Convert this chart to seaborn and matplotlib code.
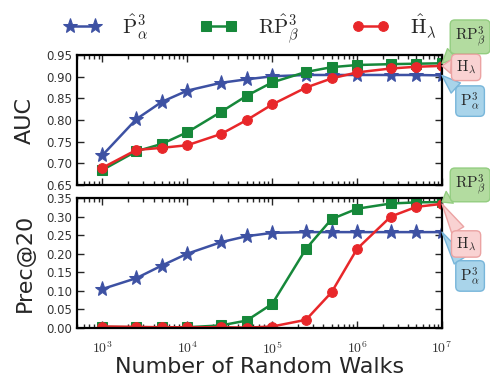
import numpy as np
import pandas as pd
import matplotlib
matplotlib.use('Agg')
import matplotlib.pyplot as plt
import seaborn as sns
from matplotlib.ticker import FuncFormatter, LogLocator, NullFormatter

## data
walks = [1e3, 2.5e3, 5e3, 1e4, 2.5e4, 5e4, 1e5, 2.5e5, 5e5, 1e6, 2.5e6, 5e6, 1e7]

auc_p = [0.719, 0.802, 0.842, 0.868, 0.886, 0.894, 0.901, 0.904, 0.904, 0.904, 0.904, 0.904, 0.903]
auc_rp = [0.685, 0.728, 0.745, 0.772, 0.819, 0.856, 0.887, 0.911, 0.922, 0.927, 0.929, 0.930, 0.931]
auc_h = [0.690, 0.731, 0.736, 0.742, 0.768, 0.800, 0.836, 0.875, 0.896, 0.910, 0.919, 0.923, 0.925]

prec_p = [0.105, 0.134, 0.168, 0.200, 0.231, 0.247, 0.256, 0.258, 0.258, 0.258, 0.258, 0.258, 0.258]
prec_rp = [0.003, 0.002, 0.002, 0.002, 0.007, 0.020, 0.065, 0.213, 0.293, 0.321, 0.335, 0.338, 0.339]
prec_h = [0.004, 0.003, 0.002, 0.002, 0.002, 0.001, 0.004, 0.022, 0.096, 0.213, 0.300, 0.326, 0.334]

names = [r'$\hat{\mathrm{P}}^3_\alpha$', r'$\mathrm{R}\hat{\mathrm{P}}^3_\beta$', r'$\hat{\mathrm{H}}_\lambda$']
box_names = [r'$\mathrm{P}^3_\alpha$', r'$\mathrm{RP}^3_\beta$', r'$\mathrm{H}_\lambda$']
colors = ['#3d51a3', '#16883a', '#e8272a']
markers = ['*', 's', 'o']
msizes = [11, 6.5, 7]
box_fc = ['#a9d4ea', '#b3dca0', '#f9d2d2']
box_ec = ['#78b6da', '#93cd80', '#eba3a3']

sns.set_style('ticks')
plt.rcParams['mathtext.fontset'] = 'cm'
plt.rcParams['font.family'] = ['DejaVu Sans']

fig = plt.figure(figsize=(4.9, 3.77), dpi=100)
ax1 = fig.add_axes([0.157, 0.509, 0.745, 0.345])
ax2 = fig.add_axes([0.157, 0.130, 0.745, 0.345])

panels = [(ax1, [auc_p, auc_rp, auc_h], (0.65, 0.95)),
          (ax2, [prec_p, prec_rp, prec_h], (0.0, 0.35))]

for ax, series, ylim in panels:
    for vals, name, c, m, ms in zip(series, names, colors, markers, msizes):
        sns.lineplot(x=walks, y=vals, ax=ax, color=c, marker=m, markersize=ms,
                     markeredgecolor=c, linewidth=1.8, label=name)
    ax.set_xscale('log')
    ax.set_xlim(500, 1e7)
    ax.set_ylim(*ylim)
    ax.set_yticks(np.arange(ylim[0], ylim[1] + 0.001, 0.05))
    ax.yaxis.set_major_formatter(FuncFormatter(lambda v, p: '%.2f' % v))
    ax.xaxis.set_major_locator(LogLocator(base=10))
    ax.xaxis.set_minor_locator(LogLocator(base=10, subs=np.arange(2, 10)))
    ax.xaxis.set_minor_formatter(NullFormatter())
    ax.tick_params(which='both', direction='in', top=True, right=True, width=1,
                   labelsize=8.5, labelcolor='#333333')
    ax.tick_params(which='major', length=5)
    ax.tick_params(which='minor', length=3)
    for s in ax.spines.values():
        s.set_linewidth(1.6)
        s.set_color('black')
    ax.get_legend().remove()

ax1.set_xticklabels([])
ax2.xaxis.set_major_formatter(FuncFormatter(lambda v, p: r'$10^{%d}$' % round(np.log10(v))))
ax2.tick_params(axis='x', which='major', pad=9, labelsize=10)

ax1.set_ylabel('AUC', fontsize=16, labelpad=8)
ax2.set_ylabel('Prec@20', fontsize=16, labelpad=8)
ax2.set_xlabel('Number of Random Walks', fontsize=16, labelpad=0)

handles, labels = ax1.get_legend_handles_labels()
fig.legend(handles, labels, loc='center', bbox_to_anchor=(0.51, 0.925), ncol=3,
           frameon=False, fontsize=15, handlelength=1.8, numpoints=2,
           columnspacing=2.5, handletextpad=1.0)

# callout boxes pointing at the last point of each curve
callouts = [
    (ax1, [auc_p, auc_rp, auc_h], [(1.077, 0.646), (1.077, 1.14), (1.066, 0.905)]),
    (ax2, [prec_p, prec_rp, prec_h], [(1.077, 0.40), (1.077, 1.10), (1.066, 0.646)]),
]
for ax, series, spots in callouts:
    for vals, txt, fc, ec, spot in zip(series, box_names, box_fc, box_ec, spots):
        ax.annotate(txt, xy=(walks[-1], vals[-1]), xycoords='data',
                    xytext=spot, textcoords='axes fraction', ha='center', va='center',
                    fontsize=11, annotation_clip=False,
                    bbox=dict(boxstyle='round,pad=0.3', fc=fc, ec=ec, lw=1),
                    arrowprops=dict(arrowstyle='wedge,tail_width=0.9', fc=fc, ec=ec, lw=1,
                                    shrinkA=0, shrinkB=0))

fig.savefig('out.png', dpi=100)
